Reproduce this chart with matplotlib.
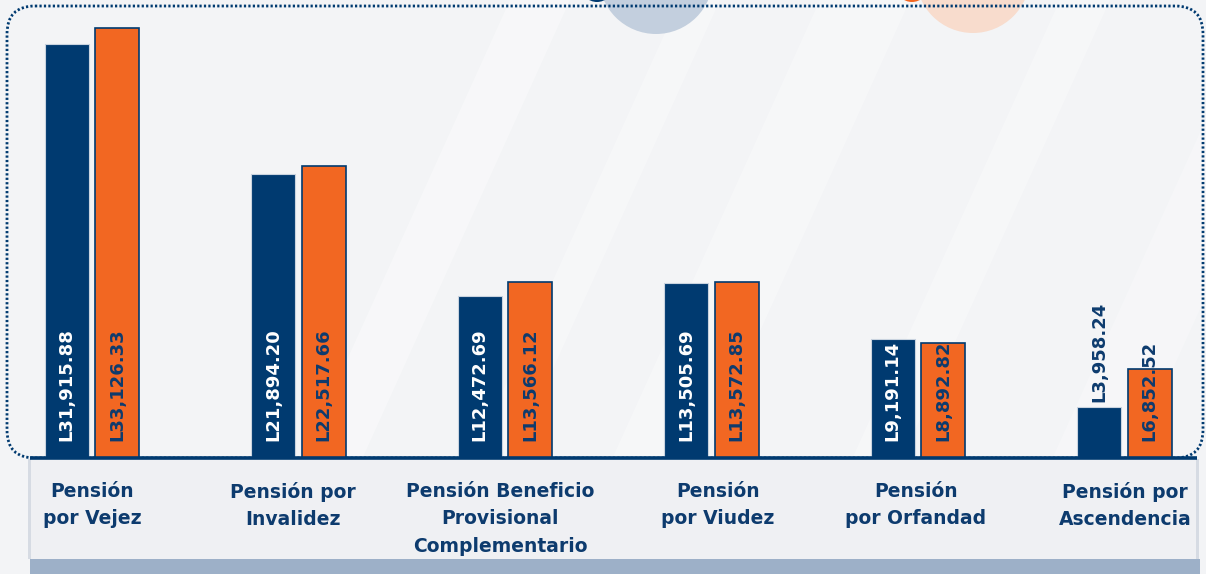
import matplotlib
matplotlib.use("Agg")
import matplotlib.pyplot as plt
from matplotlib.patches import FancyBboxPatch, Rectangle, Circle
import numpy as np

categories = ["Pensión\npor Vejez", "Pensión por\nInvalidez",
              "Pensión Beneficio\nProvisional\nComplementario",
              "Pensión\npor Viudez", "Pensión\npor Orfandad", "Pensión por\nAscendencia"]
serie_a = [31915.88, 21894.20, 12472.69, 13505.69, 9191.14, 3958.24]
serie_b = [33126.33, 22517.66, 13566.12, 13572.85, 8892.82, 6852.52]
labels_a = ["L31,915.88", "L21,894.20", "L12,472.69", "L13,505.69", "L9,191.14", "L3,958.24"]
labels_b = ["L33,126.33", "L22,517.66", "L13,566.12", "L13,572.85", "L8,892.82", "L6,852.52"]

NAVY = "#003a70"
ORANGE = "#f26722"
TXT = "#0d3b6e"

W, H = 1206, 574
fig = plt.figure(figsize=(W / 100, H / 100), dpi=100)
fig.patch.set_facecolor("#f3f4f6")

# pixel-space overlay for decorations
deco = fig.add_axes([0, 0, 1, 1])
deco.set_xlim(0, W)
deco.set_ylim(H, 0)
deco.axis("off")
deco.set_zorder(0)

# subtle diagonal light streaks in background
for x0, w, a in [(250, 60, 0.35), (420, 40, 0.3), (560, 90, 0.3), (800, 50, 0.3), (1000, 80, 0.25)]:
    deco.fill([x0, x0 + w, x0 + w + 260, x0 + 260], [574, 574, 0, 0], color="white", alpha=a, lw=0)

# decorative circles at top
deco.add_patch(Circle((656, -23), 57, color="#c3cfde", lw=0))
deco.add_patch(Circle((973, -24), 57, color="#f8dccd", lw=0))
deco.add_patch(Circle((597, -14), 16, color=NAVY, lw=0))
deco.add_patch(Circle((912, -14), 16, color=ORANGE, lw=0))

# dotted rounded frame
deco.add_patch(FancyBboxPatch((7, 6), 1196, 452, boxstyle="round,pad=0,rounding_size=28",
                              fill=False, ec=NAVY, lw=2.0, ls=(0, (0.8, 0.8))))

# bottom panel with category labels
deco.add_patch(Rectangle((30, 459), 1168, 100, color="#eff0f3", lw=0))
deco.add_patch(Rectangle((28, 459), 3, 100, color="#d6dbe3", lw=0))
deco.add_patch(Rectangle((1196, 459), 3, 100, color="#d6dbe3", lw=0))
deco.add_patch(Rectangle((30, 559), 1170, 20, color="#9db0c8", lw=0))

# main chart axes
ax = fig.add_axes([0, 0, 1, 1])
ax.set_zorder(1)
ax.patch.set_alpha(0)
x = np.arange(len(categories))
px_per_unit = 0.01297
base_px = 458
ax.set_xlim((0 - 92) / 206.5, (W - 92) / 206.5)
ax.set_ylim(-(H - base_px) / px_per_unit, base_px / px_per_unit)
ax.axis("off")

bw = 0.213
off = 0.122
ax.bar(x - off, serie_a, bw, color=NAVY, edgecolor="#c9d3df", lw=0.8, zorder=2)
ax.bar(x + off, serie_b, bw, color=ORANGE, edgecolor=NAVY, lw=1.2, zorder=2)

# baseline
ax.plot([(30 - 92) / 206.5, (1197 - 92) / 206.5], [0, 0], color=NAVY, lw=2.6, zorder=3,
        solid_capstyle="butt")

lab_y = 1300
fs = 13
for i in range(len(categories)):
    ya = lab_y
    ca = "white"
    if serie_a[i] < 8000:
        ya = serie_a[i] + 330
        ca = TXT
    ax.text(x[i] - off, ya, labels_a[i], rotation=90, ha="center", va="bottom",
            color=ca, fontsize=fs, fontweight="bold", family="DejaVu Sans", zorder=4)
    ax.text(x[i] + off, lab_y, labels_b[i], rotation=90, ha="center", va="bottom",
            color=TXT, fontsize=fs, fontweight="bold", family="DejaVu Sans", zorder=4)

label_centers_px = [92, 293, 500, 718, 916, 1125]
for i, c in enumerate(categories):
    ax.text((label_centers_px[i] - 92) / 206.5, -(482 - base_px) / px_per_unit, c,
            ha="center", va="top", color=TXT, fontsize=13.5, fontweight="bold",
            family="DejaVu Sans", linespacing=1.55, zorder=4)

fig.savefig("out.png", dpi=100, facecolor=fig.get_facecolor())
